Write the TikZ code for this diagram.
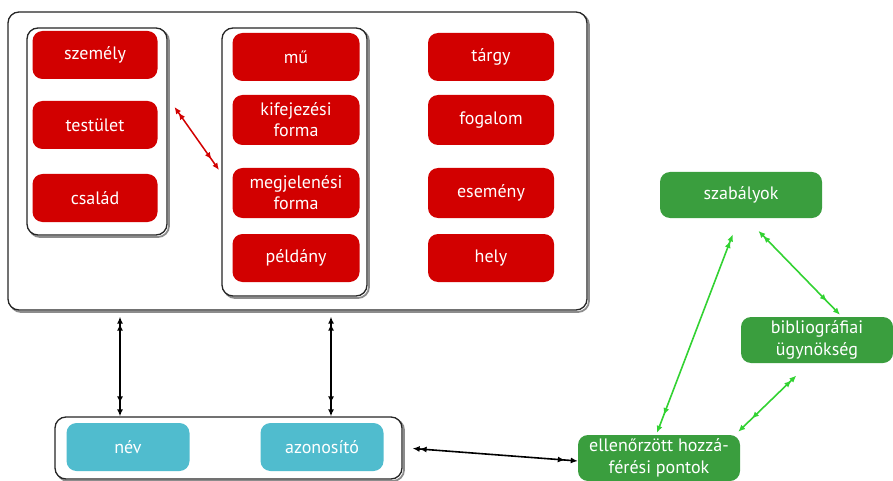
\documentclass[tikz,border=0pt]{standalone}
\usepackage{fontspec}
\setmainfont{PT Sans}
\usetikzlibrary{arrows.meta,calc}
\definecolor{cred}{RGB}{210,0,0}
\definecolor{cteal}{RGB}{80,188,206}
\definecolor{cgreen}{RGB}{58,158,62}
\definecolor{cgarrow}{RGB}{50,210,50}
\tikzset{
  rbox/.style={fill=cred,text=white,rounded corners=10pt,minimum width=125pt,minimum height=48pt,align=center,inner sep=2pt,font=\fontsize{18}{21}\selectfont},
  tbox/.style={rbox,fill=cteal,minimum width=123pt},
  gbox/.style={rbox,fill=cgreen,minimum width=160pt,minimum height=46pt,font=\fontsize{18}{22}\selectfont},
  cont/.style={draw=black!85,fill=white,line width=1.3pt,rounded corners=11pt,inner sep=0pt},
  shad/.style={draw=black!45,line width=1.8pt,rounded corners=11pt},
  blk/.style={line width=1.6pt,arrows={Latex[length=7pt,width=6pt,sep=6pt]Latex[length=7pt,width=6pt]-Latex[length=7pt,width=6pt,sep=6pt]Latex[length=7pt,width=6pt]}},
  redarr/.style={blk,draw=cred,line width=1.5pt},
  grn/.style={line width=1.6pt,draw=cgarrow,arrows={Latex[length=7pt,width=6pt,sep=12pt]Latex[length=7pt,width=6pt]-Latex[length=7pt,width=6pt,sep=12pt]Latex[length=7pt,width=6pt]}}
}
\begin{document}
\begin{tikzpicture}[x=1pt,y=-1pt]
\useasboundingbox (0,0) rectangle (893,481);
% outer container
\draw[shad] (10,14) rectangle (589,312);
\node[cont,minimum width=579pt,minimum height=298pt] (outer) at (297.5,161) {};
% left inner
\draw[shad] (29,30) rectangle (169,237);
\node[cont,minimum width=140pt,minimum height=207pt] (lbox) at (97,131.5) {};
% middle inner
\draw[shad] (224,30) rectangle (369,298);
\node[cont,minimum width=145pt,minimum height=268pt] (mbox) at (294.5,162) {};
% red nodes
\node[rbox] (szemely) at (95,55) {személy};
\node[rbox] (testulet) at (95,125) {testület};
\node[rbox] (csalad) at (95,198) {család};
\node[rbox,minimum width=127pt] (mu) at (296,57) {mű};
\node[rbox,minimum width=127pt,minimum height=50pt] (kif) at (296,120) {kifejezési\\forma};
\node[rbox,minimum width=127pt,minimum height=50pt] (megj) at (296,193) {megjelenési\\forma};
\node[rbox,minimum width=127pt] (pld) at (296,258) {példány};
\node[rbox,minimum width=126pt] (targy) at (491,57) {tárgy};
\node[rbox,minimum width=126pt,minimum height=50pt] (fog) at (491,120) {fogalom};
\node[rbox,minimum width=126pt,minimum height=50pt] (esem) at (491,193) {esemény};
\node[rbox,minimum width=126pt] (hely) at (491,258) {hely};
% bottom container
\draw[shad] (57,419) rectangle (404,481);
\node[cont,minimum width=347pt,minimum height=62pt] (bottom) at (228.5,448) {};
\node[tbox] (nev) at (128,447) {név};
\node[tbox] (azon) at (322,447) {azonosító};
% green nodes
\node[gbox,minimum width=162pt] (szab) at (741,195) {szabályok};
\node[gbox,minimum width=152pt] (bib) at (817,340) {bibliográfiai\\ügynökség};
\node[gbox,minimum width=162pt] (ell) at (659,458) {ellenőrzött hozzá-\\férési pontok};
% connectors
\coordinate (ra) at (171,102);
\coordinate (rb) at (219,170);
\draw[redarr] (ra) -- (rb);
\draw[blk] (outer.south -| 120,0) -- (bottom.north -| 120,0);
\draw[blk] (outer.south -| 331,0) -- (bottom.north -| 331,0);
\draw[blk] ([xshift=4pt]bottom.east) -- ([yshift=-3pt]ell.west);
\draw[grn] ([xshift=-4pt,yshift=-5pt]szab.south) -- ([xshift=-2pt,yshift=2pt]ell.north);
\draw[grn] ([xshift=9pt,yshift=-4pt]szab.south) -- ([xshift=23pt,yshift=2pt]bib.north);
\draw[grn] ([xshift=-12pt,yshift=-4pt]bib.south) -- ([xshift=-2pt,yshift=3pt]ell.north east);
\end{tikzpicture}
\end{document}
